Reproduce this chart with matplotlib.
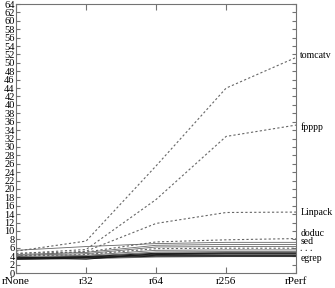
import numpy as np
import matplotlib
matplotlib.use('Agg')
import matplotlib.pyplot as plt

plt.rcParams['font.family'] = ['Liberation Serif', 'DejaVu Serif']

configs = ['rNone', 'r32', 'r64', 'r256', 'rPerf']

# benchmark name -> values at each register config
tomcatv = [5.2, 7.6, 25.5, 44.0, 51.3]
fpppp = [4.6, 5.6, 17.5, 32.5, 35.2]
linpack = [4.0, 5.2, 11.8, 14.4, 14.5]
doduc = [4.7, 5.0, 7.4, 7.9, 8.2]
sed = [5.4, 6.3, 7.0, 7.3, 7.3]
b1 = [4.4, 4.9, 6.6, 6.8, 6.8]
b2 = [4.2, 4.6, 6.2, 6.3, 6.3]
b3 = [4.0, 4.4, 5.8, 5.9, 5.9]
b4 = [3.9, 4.2, 5.4, 5.5, 5.5]
b5 = [3.7, 4.0, 5.0, 5.1, 5.1]
b6 = [3.6, 3.9, 4.7, 4.8, 4.8]
b7 = [3.5, 3.8, 4.4, 4.5, 4.5]
b8 = [3.8, 3.3, 4.6, 4.7, 4.7]
b9 = [3.4, 3.7, 4.2, 4.2, 4.2]
egrep = [3.3, 3.6, 4.0, 4.0, 4.0]
b10 = [3.2, 3.4, 3.8, 3.9, 3.9]

dotted = [tomcatv, fpppp, linpack, doduc, b3]
solid_gray = [sed, b1, b2, b4, b5, b10]
solid_black = [b6, b7, b8, b9, egrep]

label_names = ['tomcatv', 'fpppp', 'Linpack', 'doduc', 'sed', '. . .', 'egrep']
label_y = [51.8, 34.8, 14.3, 9.5, 7.6, 5.8, 3.4]

fig = plt.figure(figsize=(3.35, 2.88), dpi=100)
ax = fig.add_axes([0.048, 0.052, 0.836, 0.934])
x = np.arange(len(configs))

for s in solid_gray:
    ax.plot(x, s, color='0.4', lw=0.6)
for s in solid_black:
    ax.plot(x, s, color='0.1', lw=0.7)
for s in dotted:
    ax.plot(x, s, color='0.4', lw=0.8, linestyle=(0, (2, 2)))

for name, yy in zip(label_names, label_y):
    ax.text(x[-1] + 0.06, yy, name, fontsize=7, va='center', ha='left')

ax.set_xlim(0, len(configs) - 1)
ax.set_ylim(0, 64)
ax.set_xticks(x)
ax.set_xticklabels(configs, fontsize=8)
ax.set_yticks(np.arange(0, 65, 2))
ax.tick_params(axis='y', labelsize=7.5, pad=1, length=3, direction='in',
               right=True, color='0.45')
ax.tick_params(axis='x', pad=3, length=4, direction='in', top=True, color='0.45')
for sp in ax.spines.values():
    sp.set_color('0.45')
    sp.set_linewidth(0.8)

fig.savefig('out.png', dpi=100)
